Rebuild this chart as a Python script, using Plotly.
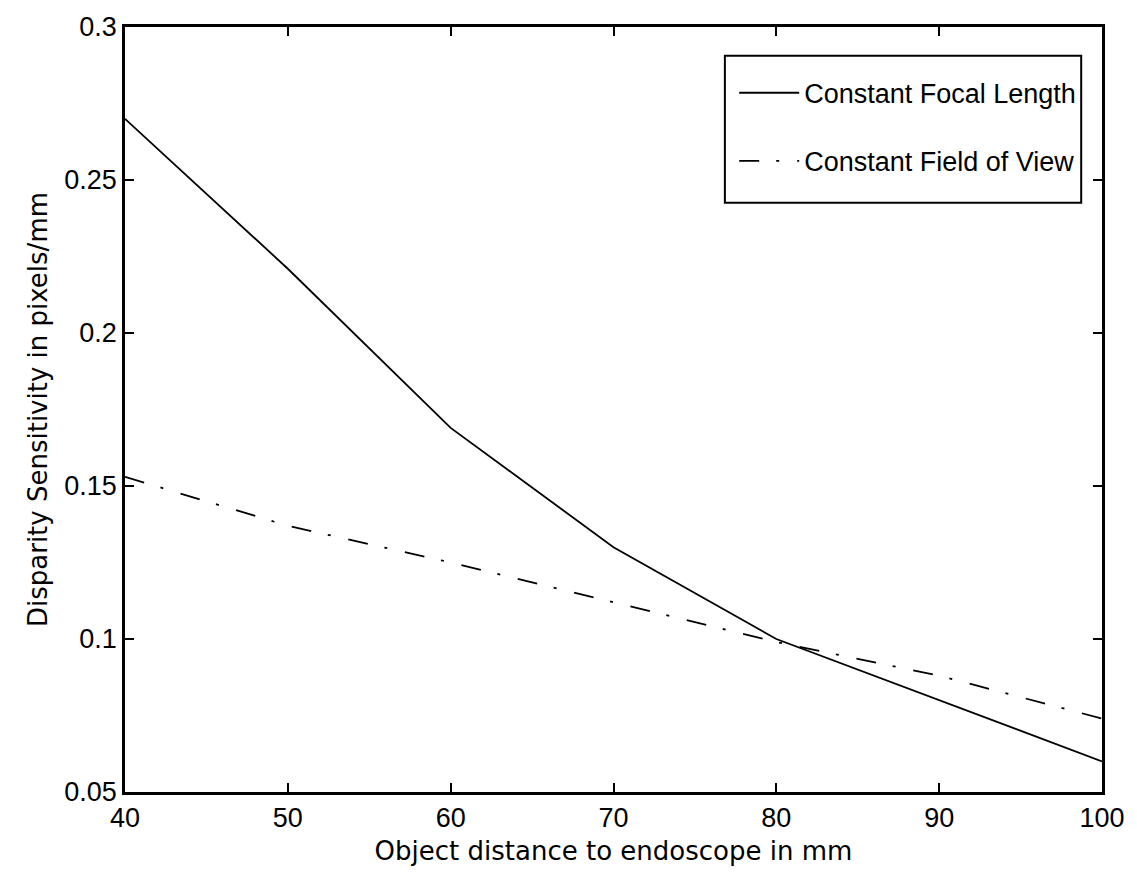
import plotly.graph_objects as go

distance_mm = [40, 50, 60, 70, 80, 90, 100]
constant_focal_length = [0.270, 0.221, 0.169, 0.130, 0.100, 0.080, 0.060]
constant_field_of_view = [0.153, 0.137, 0.125, 0.112, 0.099, 0.088, 0.074]

x_ticks = [40, 50, 60, 70, 80, 90, 100]
y_ticks = [0.05, 0.1, 0.15, 0.2, 0.25, 0.3]
y_tick_labels = ["0.05", "0.1", "0.15", "0.2", "0.25", "0.3"]

TICK_FONT = "Liberation Sans, Arial, sans-serif"
TITLE_FONT = "DejaVu Sans, Liberation Sans, sans-serif"

fig = go.Figure()
fig.add_trace(go.Scatter(
    x=distance_mm, y=constant_focal_length, mode="lines",
    name="Constant Focal Length", legendgroup="a",
    line=dict(color="black", width=1.8, dash="solid"),
))
fig.add_trace(go.Scatter(
    x=distance_mm, y=constant_field_of_view, mode="lines",
    name="Constant Field of View", legendgroup="b",
    line=dict(color="black", width=1.8, dash="20px,17px,3px,18px"),
))

axis_common = dict(
    showline=True, linecolor="black", linewidth=2.5, mirror="ticks",
    ticks="inside", ticklen=9, tickwidth=2, tickcolor="black",
    showgrid=False, zeroline=False,
    tickfont=dict(family=TICK_FONT, size=27, color="black"),
)

# legend frame (paper coordinates)
fig.add_shape(type="rect", xref="paper", yref="paper",
              x0=0.614, x1=0.9787, y0=0.7704, y1=0.9624,
              line=dict(color="black", width=2), fillcolor="rgba(0,0,0,0)",
              layer="above")

fig.update_layout(
    width=1137, height=873,
    margin=dict(l=125, r=25, t=23, b=79),
    paper_bgcolor="white", plot_bgcolor="white",
    font=dict(family=TICK_FONT, color="black"),
    xaxis=dict(range=[40, 100], tickvals=x_ticks,
               title=dict(text="Object distance to endoscope in mm",
                          font=dict(family=TITLE_FONT, size=26, color="black"), standoff=10),
               **axis_common),
    yaxis=dict(range=[0.05, 0.3], tickvals=y_ticks, ticktext=y_tick_labels,
               title=dict(text="Disparity Sensitivity in pixels/mm",
                          font=dict(family=TITLE_FONT, size=26, color="black"), standoff=10),
               **axis_common),
    legend=dict(
        x=0.9787, y=0.9455, xanchor="right", yanchor="top",
        bgcolor="rgba(0,0,0,0)", borderwidth=0,
        font=dict(family=TICK_FONT, size=27, color="black"),
        traceorder="grouped", tracegroupgap=30, itemwidth=60,
    ),
    showlegend=True,
)

fig.write_html("out.html")
